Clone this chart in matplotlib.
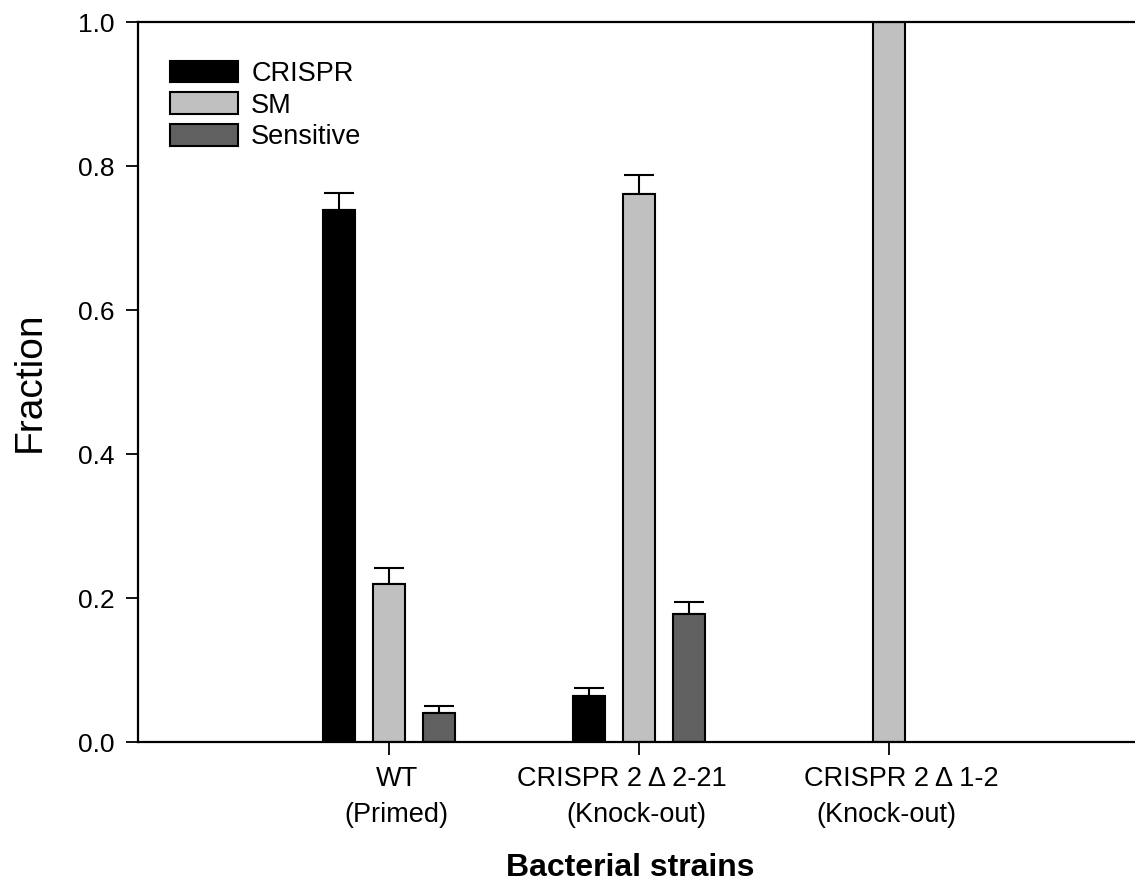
import numpy as np
import matplotlib
matplotlib.use('Agg')
import matplotlib.pyplot as plt

plt.rcParams['font.family'] = ['Liberation Sans', 'DejaVu Sans']

strains = ['WT', 'CRISPR 2 \u0394 2-21', 'CRISPR 2 \u0394 1-2']
subtitles = ['(Primed)', '(Knock-out)', '(Knock-out)']
series = ['CRISPR', 'SM', 'Sensitive']
crispr = [0.739, 0.064, 0.0]
sm = [0.219, 0.761, 1.0]
sensitive = [0.040, 0.178, 0.0]
crispr_err = [0.023, 0.011, 0.0]
sm_err = [0.022, 0.026, 0.0]
sensitive_err = [0.010, 0.017, 0.0]

colors = ['black', '#c0c0c0', '#606060']
values = [crispr, sm, sensitive]
errors = [crispr_err, sm_err, sensitive_err]

fig = plt.figure(figsize=(11.35, 8.83), dpi=100)
ax = fig.add_axes([138 / 1135, 141 / 883, 1 - 138 / 1135, 720 / 883])

x = np.arange(len(strains))
width = 0.128
offsets = [-0.2, 0.0, 0.2]

for i in range(3):
    vals = np.array(values[i])
    errs = np.array(errors[i])
    keep = vals > 0
    ax.bar(x[keep] + offsets[i], vals[keep], width, color=colors[i],
           edgecolor='black', linewidth=1.5, label=series[i], zorder=2)
    has_err = keep & (errs > 0)
    # upper error bars only
    ax.errorbar(x[has_err] + offsets[i], vals[has_err],
                yerr=[np.zeros(has_err.sum()), errs[has_err]],
                fmt='none', ecolor='black', elinewidth=1.5, capsize=11,
                capthick=1.5, zorder=1)

ax.set_xlim(-1.004, 2.984)
ax.set_ylim(0, 1.0)
ax.set_yticks(np.arange(0, 1.01, 0.2))
ax.set_yticklabels(['%.1f' % v for v in np.arange(0, 1.01, 0.2)])
ax.set_xticks(x)
ax.set_xticklabels([''] * len(x))
ax.tick_params(axis='both', direction='out', length=9, width=1.3,
               labelsize=19, colors='black')
ax.tick_params(axis='y', pad=8)

for s in ['left', 'bottom', 'top']:
    ax.spines[s].set_linewidth(1.6)
ax.spines['right'].set_visible(False)

# two-line strain labels under the ticks
trans = ax.get_xaxis_transform()
name_shift = [0.03, -0.07, 0.05]
sub_shift = [0.03, -0.01, -0.01]
for i in range(len(strains)):
    ax.text(x[i] + name_shift[i], -0.051, strains[i], transform=trans,
            ha='center', va='center', fontsize=19.5)
    ax.text(x[i] + sub_shift[i], -0.101, subtitles[i], transform=trans,
            ha='center', va='center', fontsize=19.5)

fig.text(630 / 1135, 1 - 868 / 883, 'Bacterial strains', ha='center',
         va='center', fontsize=23, fontweight='bold')
fig.text(30 / 1135, 1 - 382 / 883, 'Fraction', ha='center', va='center',
         fontsize=28, rotation=90)

ax.legend(loc='upper left', bbox_to_anchor=(0.032, 0.946), frameon=False,
          fontsize=19.5, handlelength=2.5, handleheight=0.85,
          handletextpad=0.5, labelspacing=0.2, borderpad=0, borderaxespad=0)

fig.savefig('out.png', dpi=100)
